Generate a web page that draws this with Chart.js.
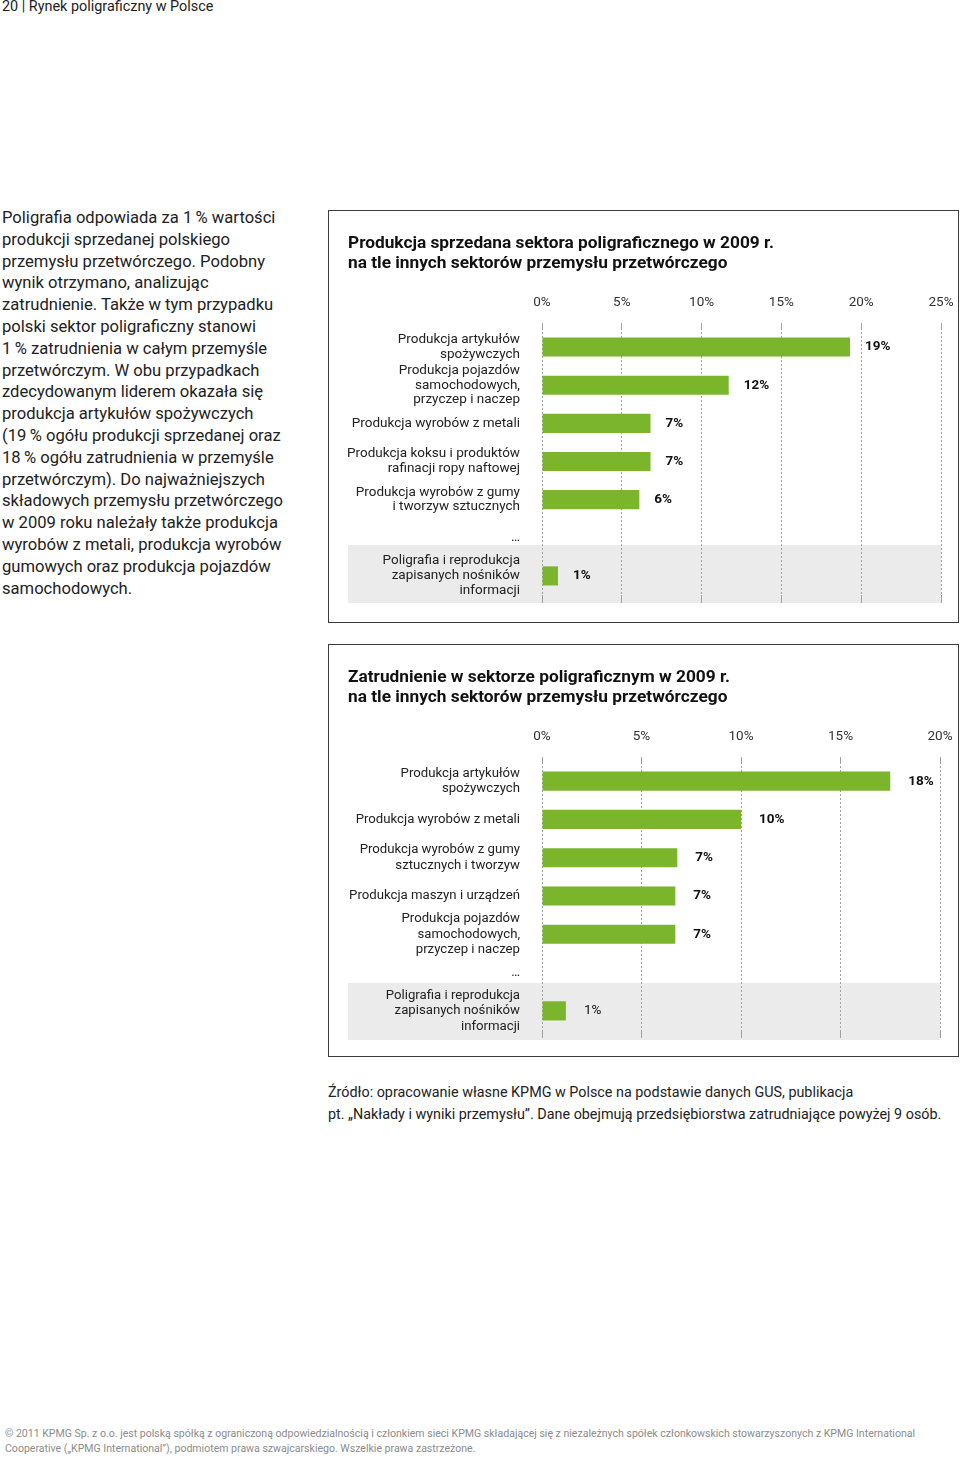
<!DOCTYPE html>
<html lang="pl">
<head>
<meta charset="utf-8">
<title>Rynek poligraficzny w Polsce</title>
<script src="https://cdn.jsdelivr.net/npm/chart.js@4.4.1/dist/chart.umd.min.js"></script>
<style>
  html, body { margin: 0; padding: 0; }
  body {
    width: 960px; height: 1457px; position: relative; overflow: hidden;
    background: #fff; color: #222; font-family: Roboto, "Noto Sans", sans-serif;
  }
  .hdr { position: absolute; left: 2px; top: -1px; font-size: 14.4px; line-height: 16px; }
  .lead { position: absolute; left: 2px; top: 207px; font-size: 16.6px; line-height: 21.8px; white-space: nowrap; }
  .box { position: absolute; left: 328px; width: 631px; border: 1px solid #3c3c3c; box-sizing: border-box; }
  #box1 { top: 210px; height: 413px; }
  #box2 { top: 644px; height: 413px; }
  .wrap { position: absolute; left: 348px; }
  #wrap1 { top: 226px; width: 609px; height: 379px; }
  #wrap2 { top: 660px; width: 608px; height: 380px; }
  .src { position: absolute; left: 328px; top: 1082px; font-size: 14.35px; line-height: 22px; white-space: nowrap; }
  .foot { position: absolute; left: 5px; top: 1426px; font-size: 10.55px; line-height: 15px; color: #8c8c8c; white-space: nowrap; }
</style>
</head>
<body>
<div class="hdr">20 | Rynek poligraficzny w Polsce</div>

<div class="lead">
Poligrafia odpowiada za 1&#8201;% wartości<br>
produkcji sprzedanej polskiego<br>
przemysłu przetwórczego. Podobny<br>
wynik otrzymano, analizując<br>
zatrudnienie. Także w tym przypadku<br>
polski sektor poligraficzny stanowi<br>
1&#8201;% zatrudnienia w całym przemyśle<br>
przetwórczym. W obu przypadkach<br>
zdecydowanym liderem okazała się<br>
produkcja artykułów spożywczych<br>
(19&#8201;% ogółu produkcji sprzedanej oraz<br>
18&#8201;% ogółu zatrudnienia w przemyśle<br>
przetwórczym). Do najważniejszych<br>
składowych przemysłu przetwórczego<br>
w 2009 roku należały także produkcja<br>
wyrobów z metali, produkcja wyrobów<br>
gumowych oraz produkcja pojazdów<br>
samochodowych.
</div>

<div class="box" id="box1"></div>
<div class="box" id="box2"></div>
<div class="wrap" id="wrap1"><canvas id="salesChart"></canvas></div>
<div class="wrap" id="wrap2"><canvas id="jobsChart"></canvas></div>

<div class="src">
Źródło: opracowanie własne KPMG w Polsce na podstawie danych GUS, publikacja<br>
pt. „Nakłady i wyniki przemysłu”. Dane obejmują przedsiębiorstwa zatrudniające powyżej 9 osób.
</div>

<div class="foot">
© 2011 KPMG Sp. z o.o. jest polską spółką z ograniczoną odpowiedzialnością i członkiem sieci KPMG składającej się z niezależnych spółek członkowskich stowarzyszonych z KPMG International<br>
Cooperative („KPMG International”), podmiotem prawa szwajcarskiego. Wszelkie prawa zastrzeżone.
</div>

<script>
// chart 1: produkcja sprzedana
const salesTitle = ['Produkcja sprzedana sektora poligraficznego w 2009 r.', 'na tle innych sektorów przemysłu przetwórczego'];
const salesCategories = [
    ['Produkcja artykułów', 'spożywczych'],
    ['Produkcja pojazdów', 'samochodowych,', 'przyczep i naczep'],
    'Produkcja wyrobów z metali',
    ['Produkcja koksu i produktów', 'rafinacji ropy naftowej'],
    ['Produkcja wyrobów z gumy', 'i tworzyw sztucznych'],
    '…',
    ['Poligrafia i reprodukcja', 'zapisanych nośników', 'informacji']
];
const salesValues = [19.3, 11.7, 6.8, 6.8, 6.1, null, 1.0];
const salesLabels = ['19%', '12%', '7%', '7%', '6%', '', '1%'];
const salesTicks = ['0%', '5%', '10%', '15%', '20%', '25%'];

// chart 2: zatrudnienie
const jobsTitle = ['Zatrudnienie w sektorze poligraficznym w 2009 r.', 'na tle innych sektorów przemysłu przetwórczego'];
const jobsCategories = [
    ['Produkcja artykułów', 'spożywczych'],
    'Produkcja wyrobów z metali',
    ['Produkcja wyrobów z gumy', 'sztucznych i tworzyw'],
    'Produkcja maszyn i urządzeń',
    ['Produkcja pojazdów', 'samochodowych,', 'przyczep i naczep'],
    '…',
    ['Poligrafia i reprodukcja', 'zapisanych nośników', 'informacji']
];
const jobsValues = [17.5, 10.0, 6.8, 6.7, 6.7, null, 1.2];
const jobsLabels = ['18%', '10%', '7%', '7%', '7%', '', '1%'];
const jobsTicks = ['0%', '5%', '10%', '15%', '20%'];

const FONT = 'Roboto, "Noto Sans", sans-serif';
const GREEN = '#7ab52c';
const GRID = '#a0a0a0';

// grey band behind the last row (Poligrafia)
const rowBand = {
    id: 'rowBand',
    beforeDraw(chart, args, opts) {
        const y = chart.scales.y;
        const last = chart.data.labels.length - 1;
        const step = Math.abs(y.getPixelForValue(1) - y.getPixelForValue(0));
        const c = y.getPixelForValue(last);
        const ctx = chart.ctx;
        ctx.save();
        ctx.fillStyle = '#ebebeb';
        ctx.fillRect(0, c - step * opts.above, chart.chartArea.right, step * (opts.above + opts.below));
        ctx.restore();
    }
};

// percent labels to the right of the bars
const valueTags = {
    id: 'valueTags',
    afterDatasetsDraw(chart, args, opts) {
        const ctx = chart.ctx;
        const meta = chart.getDatasetMeta(0);
        ctx.save();
        ctx.fillStyle = '#111';
        ctx.textBaseline = 'middle';
        meta.data.forEach((bar, i) => {
            const txt = opts.labels[i];
            if (!txt) return;
            const last = i === meta.data.length - 1;
            const bold = !(last && !opts.boldLast);
            ctx.font = (bold ? 'bold ' : '') + '13.5px ' + FONT;
            ctx.fillText(txt, bar.x + opts.gap, bar.y);
        });
        ctx.restore();
    }
};

function makeChart(id, title, cats, values, labels, ticks, max, opts) {
    const ctx = document.getElementById(id).getContext('2d');
    return new Chart(ctx, {
        type: 'bar',
        data: {
            labels: cats,
            datasets: [{
                data: values,
                backgroundColor: GREEN,
                borderWidth: 0,
                barPercentage: 0.5,
                categoryPercentage: 1.0
            }]
        },
        options: {
            indexAxis: 'y',
            responsive: true,
            maintainAspectRatio: false,
            animation: false,
            layout: { padding: { left: 0, right: 16, top: 0, bottom: 2 } },
            plugins: {
                legend: { display: false },
                tooltip: { enabled: false },
                title: {
                    display: true,
                    text: title,
                    align: 'start',
                    color: '#111',
                    font: { family: FONT, size: 17.3, weight: 'bold', lineHeight: 1.15 },
                    padding: { top: 8, bottom: 9 }
                },
                rowBand: opts.band,
                valueTags: { labels: labels, gap: opts.gap, boldLast: opts.boldLast }
            },
            scales: {
                x: {
                    position: 'top',
                    min: 0,
                    max: max,
                    ticks: {
                        stepSize: 5,
                        padding: 12,
                        color: '#333',
                        font: { family: FONT, size: 13.5 },
                        callback: (v, i) => ticks[i]
                    },
                    grid: { color: GRID, lineWidth: 1, drawTicks: true, tickLength: 5 },
                    border: { display: false, dash: [2, 2] },
                    afterFit(scale) {
                        scale.paddingLeft = 0;
                        scale.paddingRight = 0;
                    }
                },
                // only carries the dotted lines a few pixels below the last row
                xLow: {
                    type: 'linear',
                    position: 'bottom',
                    min: 0,
                    max: max,
                    ticks: { stepSize: 5, display: false },
                    grid: { color: GRID, lineWidth: 1, drawOnChartArea: false, drawTicks: true, tickLength: 8 },
                    border: { display: false, dash: [2, 2] },
                    afterFit(scale) {
                        scale.paddingLeft = 0;
                        scale.paddingRight = 0;
                    }
                },
                y: {
                    ticks: {
                        autoSkip: false,
                        padding: 22,
                        color: '#222',
                        font: { family: FONT, size: opts.fs, lineHeight: opts.lh }
                    },
                    grid: { display: false, drawTicks: false },
                    border: { display: false },
                    afterFit(scale) {
                        scale.width = 194;
                        scale.paddingTop = 0;
                        scale.paddingBottom = 0;
                    }
                }
            }
        },
        plugins: [rowBand, valueTags]
    });
}

window.onload = function() {
    makeChart('salesChart', salesTitle, salesCategories, salesValues, salesLabels, salesTicks, 25,
        { gap: 15, boldLast: true, lh: 1.1, fs: 13.5, band: { above: 0.81, below: 0.71 } });
    makeChart('jobsChart', jobsTitle, jobsCategories, jobsValues, jobsLabels, jobsTicks, 20,
        { gap: 18, boldLast: false, lh: 1.18, fs: 13.2, band: { above: 0.73, below: 0.78 } });
};
</script>
</body>
</html>
